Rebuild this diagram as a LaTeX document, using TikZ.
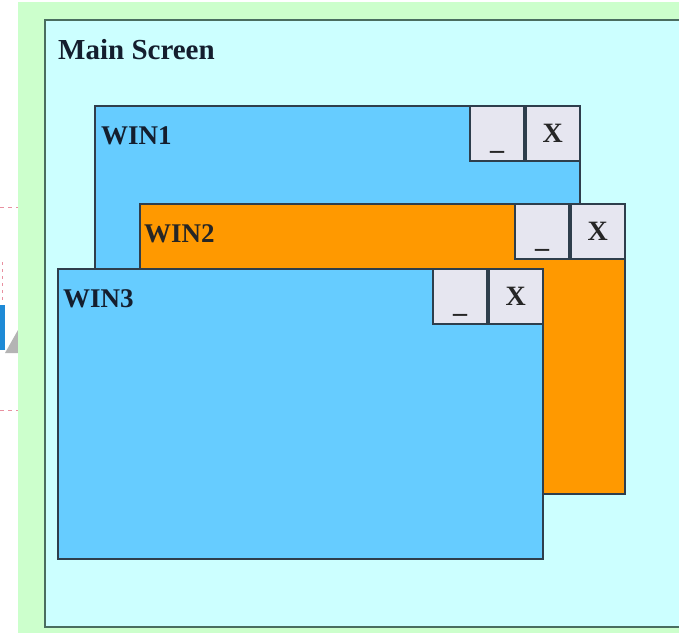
\documentclass[tikz,border=0pt]{standalone}
\usepackage{fontspec}
\setmainfont{Liberation Serif}
\begin{document}
\begin{tikzpicture}[x=1pt,y=-1pt,
  bgcol/.style={fill=bggreen,draw=none},
  screen/.style={fill=screencyan,draw=screenedge,line width=2pt},
  win/.style={draw=winedge,line width=1.6pt,rectangle,minimum width=485pt,minimum height=290pt,inner sep=0pt,anchor=north west},
  bluewin/.style={win,fill=winblue},
  orangewin/.style={win,fill=winorange},
  btn/.style={draw=winedge,line width=1.6pt,fill=btnfill,rectangle,minimum width=54pt,minimum height=55pt,inner sep=0pt,anchor=north east},
  wtitle/.style={font=\fontsize{27}{30}\selectfont\bfseries,text=titlecol,anchor=base west,inner sep=0pt},
  btext/.style={font=\fontsize{28}{30}\selectfont\bfseries,text=black!85,anchor=base,inner sep=0pt},
  artdash/.style={draw=artred,line width=1pt,dash pattern=on 4pt off 4pt}
]
\definecolor{bggreen}{HTML}{CCFFCC}
\definecolor{screencyan}{HTML}{CCFFFF}
\definecolor{screenedge}{HTML}{4A6E60}
\definecolor{winblue}{HTML}{66CCFF}
\definecolor{winorange}{HTML}{FF9900}
\definecolor{winedge}{HTML}{2E3E4C}
\definecolor{btnfill}{HTML}{E6E6F0}
\definecolor{titlecol}{HTML}{141E2E}
\definecolor{artred}{HTML}{E890A0}
\definecolor{artblue}{HTML}{1E8AD6}
\definecolor{artgray}{HTML}{B4B4B4}
\useasboundingbox (0,0) rectangle (679,632);
\clip (0,0) rectangle (679,632);
\fill[white] (0,0) rectangle (679,632);
% left-edge fragments
\draw[artdash] (0,207) -- (18,207);
\draw[artdash] (0,410) -- (18,410);
\draw[draw=artred,line width=1pt,dash pattern=on 3pt off 4pt] (2,262) -- (2,303);
\fill[artblue] (0,305) rectangle (5,350);
\fill[artgray] (5,353) -- (18,330) -- (18,353) -- cycle;
% background and screen
\path[bgcol] (18,2) rectangle (690,640);
\draw[screen] (45,20) rectangle (700,627);
\node[anchor=base west,inner sep=0pt,font=\fontsize{29}{32}\selectfont\bfseries,text=titlecol] (mstitle) at (58,59) {Main Screen};
% WIN1
\node[bluewin] (win1) at (94,105) {};
\node[wtitle] (win1t) at ([xshift=7pt,yshift=-39pt]win1.north west) {WIN1};
\node[btn] (win1x) at (win1.north east) {};
\node[btn] (win1m) at (win1x.north west) {};
\node[btext] at ([yshift=-9pt]win1x.center) {X};
\node[btext] at ([yshift=-16pt]win1m.center) {\_};
% WIN2
\node[orangewin] (win2) at (139,203) {};
\node[wtitle,text=black!85] (win2t) at ([xshift=5pt,yshift=-39pt]win2.north west) {WIN2};
\node[btn] (win2x) at (win2.north east) {};
\node[btn] (win2m) at (win2x.north west) {};
\node[btext] at ([yshift=-9pt]win2x.center) {X};
\node[btext] at ([yshift=-16pt]win2m.center) {\_};
% WIN3
\node[bluewin] (win3) at (57,268) {};
\node[wtitle] (win3t) at ([xshift=6pt,yshift=-39pt]win3.north west) {WIN3};
\node[btn] (win3x) at (win3.north east) {};
\node[btn] (win3m) at (win3x.north west) {};
\node[btext] at ([yshift=-9pt]win3x.center) {X};
\node[btext] at ([yshift=-16pt]win3m.center) {\_};
\end{tikzpicture}
\end{document}
